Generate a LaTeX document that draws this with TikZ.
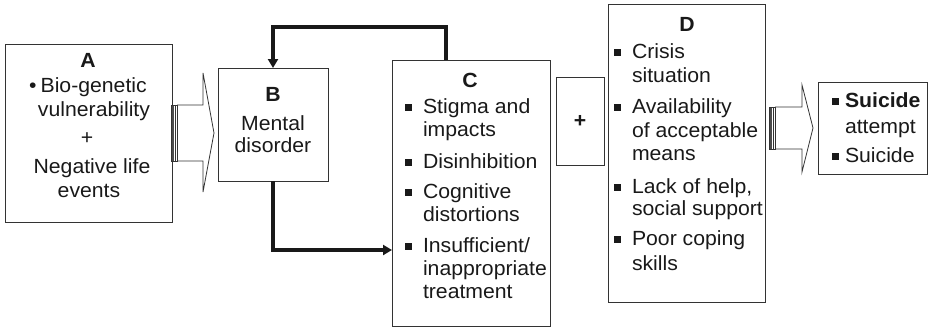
\documentclass[tikz,border=0pt]{standalone}
\usepackage{fontspec}
\setmainfont{Liberation Sans}[FakeStretch=1.035]
\usetikzlibrary{arrows.meta,calc}
\newcommand\sqb{\rule[2.5pt]{7pt}{7pt}}
\newcommand\fs{\fontsize{20.5}{24}\selectfont}
\begin{document}
\begin{tikzpicture}[x=1pt,y=-1pt,
  box/.style={draw=black!80,line width=0.9pt,inner sep=0,outer sep=0,anchor=north west},
  t/.style={inner sep=0,outer sep=0,anchor=base,font=\fs,text=black!90},
  tl/.style={t,anchor=base west},
  tb/.style={t,font=\fs\bfseries},
  link/.style={line width=3.2pt,draw=black!90,-{Triangle[length=9pt,width=10pt]}},
  edge/.style={draw=black!80,line width=0.8pt,line join=miter}]
\useasboundingbox (0,0) rectangle (928,327);

% boxes
\node[box,minimum width=167,minimum height=178] (A) at (5,44) {};
\node[box,minimum width=110,minimum height=113] (B) at (218,68) {};
\node[box,minimum width=158,minimum height=266] (C) at (392,60) {};
\node[box,minimum width=48,minimum height=88] (P) at (556,77) {};
\node[box,minimum width=157,minimum height=298] (D) at (608,4) {};
\node[box,minimum width=109,minimum height=92] (E) at (818,82) {};

% A text
\node[tb] (At) at (88,67) {A};
\node[t] (A1) at (88,92) {\textbullet\hspace{4pt}Bio-genetic};
\node[t] (A2) at (94,116) {vulnerability};
\node[t] (A3) at (87,144) {+};
\node[t] (A4) at (92,173) {Negative life};
\node[t] (A5) at (89,197) {events};

% B text
\node[tb] (Bt) at (273,101) {B};
\node[t] (B1) at (273,130) {Mental};
\node[t] (B2) at (273,152) {disorder};

% C text
\node[tb] (Ct) at (470,87) {C};
\node[tl] (C1) at (405,113) {\makebox[18pt][l]{\sqb}Stigma and};
\node[tl] (C2) at (423,136) {impacts};
\node[tl] (C3) at (405,168) {\makebox[18pt][l]{\sqb}Disinhibition};
\node[tl] (C4) at (405,198) {\makebox[18pt][l]{\sqb}Cognitive};
\node[tl] (C5) at (423,221) {distortions};
\node[tl] (C6) at (405,252) {\makebox[18pt][l]{\sqb}Insufficient/};
\node[tl] (C7) at (423,275) {inappropriate};
\node[tl] (C8) at (423,298) {treatment};

% plus
\node[tb,anchor=center] (Pt) at (P.center) {+};

% D text
\node[tb] (Dt) at (687,31) {D};
\node[tl] (D1) at (614,58) {\makebox[18pt][l]{\sqb}Crisis};
\node[tl] (D2) at (632,82) {situation};
\node[tl] (D3) at (614,113) {\makebox[18pt][l]{\sqb}Availability};
\node[tl] (D4) at (632,137) {of acceptable};
\node[tl] (D5) at (632,160) {means};
\node[tl] (D6) at (614,193) {\makebox[18pt][l]{\sqb}Lack of help,};
\node[tl] (D7) at (632,215) {social support};
\node[tl] (D8) at (614,245) {\makebox[18pt][l]{\sqb}Poor coping};
\node[tl] (D9) at (632,270) {skills};

% E text
\node[tl] (E1) at (832,107) {\makebox[13pt][l]{\sqb}\textbf{Suicide}};
\node[tl] (E2) at (845,133) {attempt};
\node[tl] (E3) at (832,162) {\makebox[13pt][l]{\sqb}Suicide};

% block arrow A -> B
\begin{scope}[shift={(A.east)}]
  \fill[black!70] (-1,-28) rectangle (2,28);
  \draw[edge] (-1,-28) rectangle (5,28);
  \draw[edge] (3.5,-28) -- (3.5,28);
  \draw[edge] (5,-28) -- (31,-28) -- (31,-60) -- (42,0) -- (31,59) -- (31,28) -- (5,28);
\end{scope}

% block arrow D -> E
\coordinate (de) at (D.east |- E.west);
\begin{scope}[shift={(de)}]
  \fill[black!70] (4,-21) rectangle (7,21);
  \draw[edge] (4,-21) rectangle (10,21);
  \draw[edge] (8.5,-21) -- (8.5,21);
  \draw[edge] (10,-21) -- (37,-21) -- (37,-43) -- (48,0) -- (37,44) -- (37,21) -- (10,21);
\end{scope}

% links
\coordinate (fb) at (446,27);
\draw[link] (C.north -| fb) -- (fb) -| (B.north);
\coordinate (bc) at (273,250);
\draw[link] (B.south) |- (C.west |- bc);
\end{tikzpicture}
\end{document}
